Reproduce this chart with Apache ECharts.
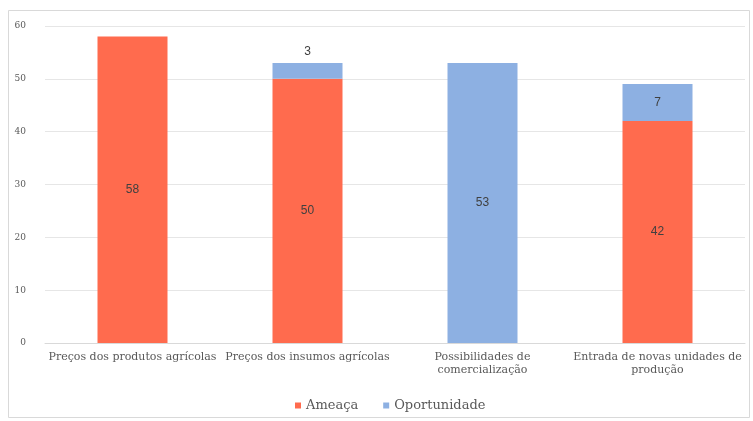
<!DOCTYPE html>
<html>
<head>
<meta charset="utf-8">
<script src="https://cdn.jsdelivr.net/npm/echarts@6/dist/echarts.min.js"></script>
<style>
  html, body { margin: 0; padding: 0; background: #fff; }
  #chart { width: 753px; height: 421px; }
</style>
</head>
<body>
<div id="chart"></div>
<script>
// Fatores externos: número de respostas por fator
const categories = [
  'Preços dos produtos agrícolas',
  'Preços dos insumos agrícolas',
  'Possibilidades de\ncomercialização',
  'Entrada de novas unidades de\nprodução'
];
const ameaca = [58, 50, null, 42];
const oportunidade = [null, 3, 53, 7];
const yTicks = { min: 0, max: 60, interval: 10 };

const serif = '"DejaVu Serif", "Liberation Serif", serif';
const sans = '"Liberation Sans", Arial, sans-serif';

const chart = echarts.init(document.getElementById('chart'), null, { renderer: 'canvas' });

// small segments get their value printed above the bar instead of inside
function withLabels(values) {
  return values.map(v => {
    if (v === null) return null;
    if (v < 5) {
      return { value: v, label: { position: 'top', color: '#404040' } };
    }
    return v;
  });
}

chart.setOption({
  animation: false,
  backgroundColor: '#fff',
  graphic: [{
    type: 'rect',
    shape: { x: 8.5, y: 10.5, width: 741, height: 407 },
    style: { fill: 'none', stroke: '#d9d9d9', lineWidth: 1 },
    silent: true
  }],
  grid: { left: 45, right: 8, top: 26, bottom: 78 },
  legend: {
    bottom: 4,
    left: 290,
    itemWidth: 6,
    itemHeight: 6,
    itemGap: 25,
    icon: 'rect',
    textStyle: { fontFamily: serif, fontSize: 13, color: '#595959' },
    data: ['Ameaça', 'Oportunidade']
  },
  xAxis: {
    type: 'category',
    data: categories,
    axisLine: { lineStyle: { color: '#d9d9d9' } },
    axisTick: { show: false },
    axisLabel: {
      interval: 0,
      hideOverlap: false,
      margin: 8,
      fontFamily: serif,
      fontSize: 11,
      lineHeight: 13,
      color: '#595959'
    }
  },
  yAxis: {
    type: 'value',
    min: yTicks.min,
    max: yTicks.max,
    interval: yTicks.interval,
    axisLine: { show: false },
    axisTick: { show: false },
    splitLine: { lineStyle: { color: '#e6e6e6' } },
    axisLabel: { margin: 19, fontFamily: serif, fontSize: 9, color: '#595959' }
  },
  series: [
    {
      name: 'Ameaça',
      type: 'bar',
      stack: 'total',
      barWidth: '40%',
      data: withLabels(ameaca),
      itemStyle: { color: '#FF6B4E' },
      label: { show: true, position: 'inside', fontFamily: sans, fontSize: 12, color: '#404040' }
    },
    {
      name: 'Oportunidade',
      type: 'bar',
      stack: 'total',
      barWidth: '40%',
      data: withLabels(oportunidade),
      itemStyle: { color: '#8DB0E2' },
      label: { show: true, position: 'inside', fontFamily: sans, fontSize: 12, color: '#404040' }
    }
  ]
});
</script>
</body>
</html>
